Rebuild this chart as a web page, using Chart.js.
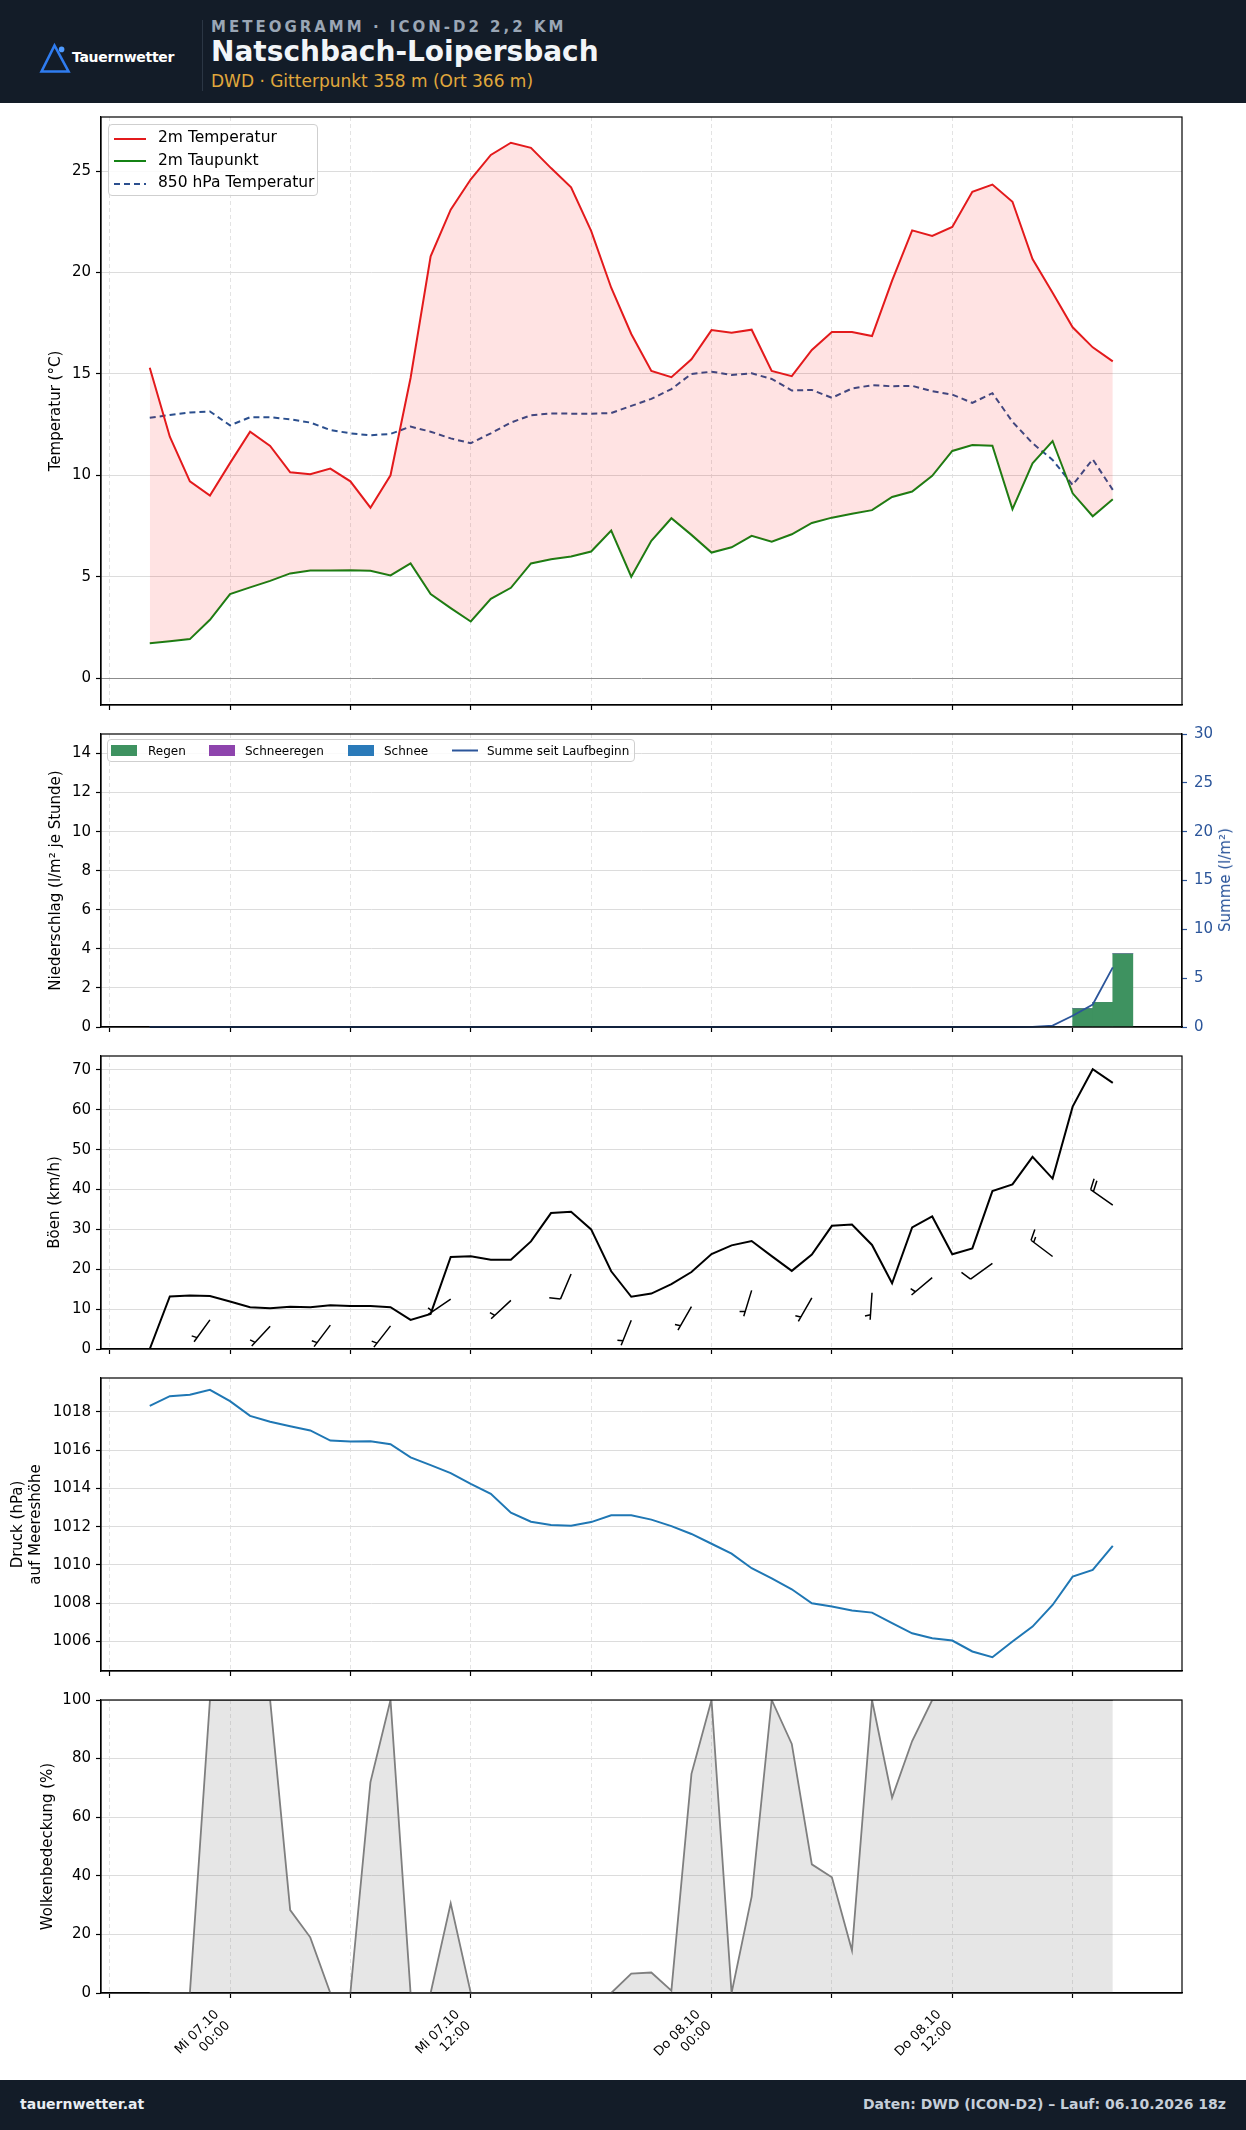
<!DOCTYPE html>
<html lang="de">
<head>
<meta charset="utf-8">
<title>Meteogramm ICON-D2 – Natschbach-Loipersbach</title>
<script src="https://cdn.jsdelivr.net/npm/chart.js@4.4.1/dist/chart.umd.min.js"></script>
<style>
  html, body { margin: 0; padding: 0; background: #fff; }
  body { position: relative; width: 1246px; height: 2130px; overflow: hidden; font-family: 'DejaVu Sans', sans-serif; color: #000; }
  .abs { position: absolute; white-space: nowrap; }
  #header { left: 0; top: 0; width: 1246px; height: 103px; background: #131c28; }
  #footer { left: 0; top: 2080px; width: 1246px; height: 50px; background: #131c28; }
  canvas { position: absolute; left: 0; }
  .leg { position: absolute; background: rgba(255,255,255,0.85); border: 1px solid #cfcfcf; border-radius: 4px; box-sizing: border-box; }
  .leg span, .leg svg, .leg i { position: absolute; white-space: nowrap; line-height: 1; }
</style>
</head>
<body>
<div id="header" class="abs">
  <svg class="abs" style="left:38px;top:42px" width="34" height="33" viewBox="0 0 34 33">
    <path d="M3.5 29.5 L16.5 3.5 L30.5 29.5 Z" fill="none" stroke="#2f7cf0" stroke-width="2.6"/>
    <circle cx="23.6" cy="7.4" r="2.8" fill="#4f9bff"/>
  </svg>
  <div class="abs" style="left:72px;top:50px;font-size:14px;font-weight:bold;color:#fff;line-height:1;letter-spacing:-0.3px">Tauernwetter</div>
  <div class="abs" style="left:202px;top:20px;width:1px;height:71px;background:#2b3644"></div>
  <div class="abs" style="left:211px;top:20px;font-size:15px;font-weight:bold;color:#9aa6b5;line-height:1;letter-spacing:3px">METEOGRAMM · ICON-D2 2,2 KM</div>
  <div class="abs" style="left:211px;top:38px;font-size:28px;font-weight:bold;color:#f2f5f8;line-height:1">Natschbach-Loipersbach</div>
  <div class="abs" style="left:211px;top:73px;font-size:17px;color:#e0a83c;line-height:1">DWD · Gitterpunkt 358 m (Ort 366 m)</div>
</div>

<canvas id="cTemp"></canvas>
<canvas id="cPrecip"></canvas>
<canvas id="cGust"></canvas>
<canvas id="cPress"></canvas>
<canvas id="cCloud"></canvas>

<div class="leg" style="left:108px;top:124px;width:210px;height:72px;font-size:15.5px">
  <svg style="left:5px;top:12px" width="32" height="4"><line x1="0" y1="2" x2="32" y2="2" stroke="#e31a1c" stroke-width="2"/></svg>
  <span style="left:49px;top:5px">2m Temperatur</span>
  <svg style="left:5px;top:34px" width="32" height="4"><line x1="0" y1="2" x2="32" y2="2" stroke="#148214" stroke-width="2"/></svg>
  <span style="left:49px;top:28px">2m Taupunkt</span>
  <svg style="left:5px;top:57px" width="32" height="4"><line x1="0" y1="2" x2="32" y2="2" stroke="#2b4f8e" stroke-width="2" stroke-dasharray="6 4"/></svg>
  <span style="left:49px;top:50px">850 hPa Temperatur</span>
</div>

<div class="leg" style="left:107px;top:739px;width:528px;height:23px;font-size:12px">
  <i style="left:3px;top:5px;width:26px;height:11px;background:#3e9260"></i>
  <span style="left:40px;top:5px">Regen</span>
  <i style="left:101px;top:5px;width:26px;height:11px;background:#8e44ad"></i>
  <span style="left:137px;top:5px">Schneeregen</span>
  <i style="left:240px;top:5px;width:26px;height:11px;background:#2a7ab9"></i>
  <span style="left:276px;top:5px">Schnee</span>
  <svg style="left:344px;top:9px" width="26" height="3"><line x1="0" y1="1.5" x2="26" y2="1.5" stroke="#2b559a" stroke-width="2"/></svg>
  <span style="left:379px;top:5px">Summe seit Laufbeginn</span>
</div>

<div class="abs" style="left:1225px;top:880px;font-size:15px;color:#2b559a;transform:translate(-50%,-50%) rotate(-90deg)">Summe (l/m²)</div>

<div id="footer" class="abs">
  <div class="abs" style="left:20px;top:17px;font-size:14px;font-weight:bold;color:#e8edf2;line-height:1">tauernwetter.at</div>
  <div class="abs" style="right:20px;top:17px;font-size:14px;font-weight:bold;color:#c5ced8;line-height:1">Daten: DWD (ICON-D2) – Lauf: 06.10.2026 18z</div>
</div>

<script>
// Stunden relativ zu Mi 07.10 00:00
const hours = [-4,-3,-2,-1,0,1,2,3,4,5,6,7,8,9,10,11,12,13,14,15,16,17,18,19,20,21,22,23,24,25,26,27,28,29,30,31,32,33,34,35,36,37,38,39,40,41,42,43,44];

const temp2m = [15.3,11.9,9.7,9.0,10.6,12.15,11.45,10.15,10.05,10.33,9.7,8.4,10.0,14.8,20.8,23.1,24.6,25.8,26.4,26.15,25.15,24.2,22.05,19.25,16.97,15.15,14.84,15.72,17.16,17.03,17.18,15.15,14.89,16.18,17.07,17.07,16.87,19.6,22.08,21.8,22.25,23.98,24.34,23.49,20.66,19.0,17.3,16.31,15.62];
const dew2m = [1.72,1.82,1.92,2.87,4.14,4.47,4.79,5.16,5.3,5.3,5.32,5.29,5.06,5.65,4.14,3.45,2.79,3.91,4.45,5.65,5.86,5.99,6.24,7.27,5.0,6.77,7.88,7.06,6.19,6.45,7.01,6.72,7.09,7.65,7.91,8.1,8.28,8.93,9.2,9.97,11.2,11.49,11.46,8.33,10.59,11.69,9.11,7.98,8.82];
const t850 = [12.84,12.97,13.1,13.15,12.46,12.86,12.86,12.76,12.6,12.23,12.07,11.97,12.04,12.4,12.15,11.82,11.58,12.07,12.6,12.96,13.05,13.04,13.04,13.07,13.42,13.77,14.25,15.0,15.11,14.95,15.03,14.75,14.18,14.21,13.82,14.28,14.44,14.39,14.41,14.15,13.98,13.57,14.05,12.64,11.58,10.76,9.52,10.79,9.28];

const precipRain  = [0,0,0,0,0,0,0,0,0,0,0,0,0,0,0,0,0,0,0,0,0,0,0,0,0,0,0,0,0,0,0,0,0,0,0,0,0,0,0,0,0,0,0,0,0,0,0.94,1.26,3.75];
const precipSleet = [0,0,0,0,0,0,0,0,0,0,0,0,0,0,0,0,0,0,0,0,0,0,0,0,0,0,0,0,0,0,0,0,0,0,0,0,0,0,0,0,0,0,0,0,0,0,0,0,0];
const precipSnow  = [0,0,0,0,0,0,0,0,0,0,0,0,0,0,0,0,0,0,0,0,0,0,0,0,0,0,0,0,0,0,0,0,0,0,0,0,0,0,0,0,0,0,0,0,0,0,0,0,0];
const precipSum   = [0,0,0,0,0,0,0,0,0,0,0,0,0,0,0,0,0,0,0,0,0,0,0,0,0,0,0,0,0,0,0,0,0,0,0,0,0,0,0,0,0,0,0,0,0.02,0.15,1.15,2.3,6.1];

const gusts = [0,13.2,13.4,13.3,11.9,10.5,10.2,10.6,10.5,11.0,10.8,10.8,10.5,7.3,8.8,23.1,23.25,22.4,22.4,27.0,34.1,34.4,30.0,19.5,13.1,13.9,16.25,19.3,23.8,26.0,27.1,23.3,19.6,23.7,30.9,31.2,26.1,16.5,30.5,33.25,23.75,25.25,39.6,41.3,48.2,42.75,60.8,70.2,66.75];

// Windfahnen alle 3 Stunden: Mittelwind (km/h), Richtung (Grad, woher), Fiederung (kt)
const windHours = [-1,2,5,8,11,14,17,20,23,26,29,32,35,38,41,44];
const windSpeed = [7.3,5.7,6.0,5.8,12.5,12.2,18.8,7.2,10.6,14.7,12.8,14.1,17.9,21.5,23.2,36.1];
const windDir   = [216,223,217,218,236,227,203,202,210,197,210,184,230,234,307,305];
const windBarbKt = [5,5,5,5,5,5,10,5,5,5,5,5,5,10,15,20];

const pressure = [1018.31,1018.82,1018.9,1019.15,1018.56,1017.79,1017.48,1017.25,1017.03,1016.5,1016.45,1016.47,1016.31,1015.62,1015.22,1014.8,1014.24,1013.72,1012.73,1012.26,1012.09,1012.05,1012.24,1012.6,1012.6,1012.37,1012.03,1011.62,1011.11,1010.59,1009.83,1009.3,1008.73,1008.0,1007.83,1007.62,1007.51,1006.96,1006.43,1006.17,1006.05,1005.48,1005.18,1006.0,1006.78,1007.91,1009.39,1009.74,1011.0];

const clouds = [0,0,0,100,100,100,100,28.3,19,0,0,72,100,0,0,30.6,0,0,0,0,0,0,0,0,6.6,7.0,0.8,74.8,100,0,32.9,100,85,43.9,39.5,14.5,100,66.7,86,100,100,100,100,100,100,100,100,100,100];

// Achsen
const xTickHours = [-6,0,6,12,18,24,30,36,42];
const xTickLabels = ['', 'Mi 07.10\n00:00', '', 'Mi 07.10\n12:00', '', 'Do 08.10\n00:00', '', 'Do 08.10\n12:00', ''];
const tempTicks = [0,5,10,15,20,25];
const precipTicks = [0,2,4,6,8,10,12,14];
const sumTicks = [0,5,10,15,20,25,30];
const gustTicks = [0,10,20,30,40,50,60,70];
const pressTicks = [1006,1008,1010,1012,1014,1016,1018];
const cloudTicks = [0,20,40,60,80,100];

const X_MIN = -6.43, X_MAX = 47.45;

// Plotbereiche (oben/unten in px)
const panels = {
  cTemp:   {top: 117,  bottom: 705,  xh: 20},
  cPrecip: {top: 734,  bottom: 1027, xh: 20},
  cGust:   {top: 1056, bottom: 1349, xh: 20},
  cPress:  {top: 1378, bottom: 1671, xh: 20},
  cCloud:  {top: 1700, bottom: 1993, xh: 87}
};
const PAD_TOP = 20;

Chart.defaults.font.family = "'DejaVu Sans', sans-serif";
Chart.defaults.font.size = 15;
Chart.defaults.color = '#000';

const pts = (arr, shift = 0) => hours.map((h, i) => ({x: h + shift, y: arr[i]}));

const framePlugin = {
  id: 'frame',
  afterDraw(chart) {
    const {ctx, chartArea: a} = chart;
    ctx.save();
    ctx.strokeStyle = '#000';
    ctx.lineWidth = 1.2;
    ctx.strokeRect(a.left, a.top, a.right - a.left, a.bottom - a.top);
    ctx.restore();
  }
};

const barbPlugin = {
  id: 'barbs',
  afterDatasetsDraw(chart) {
    const {ctx, scales: {x, y}} = chart;
    const L = 27;
    ctx.save();
    ctx.strokeStyle = '#000';
    ctx.lineWidth = 1.5;
    windHours.forEach((h, i) => {
      const px = x.getPixelForValue(h), py = y.getPixelForValue(windSpeed[i]);
      const a = windDir[i] * Math.PI / 180;
      const dx = Math.sin(a), dy = -Math.cos(a);
      const nx = -dy, ny = dx;
      ctx.beginPath();
      ctx.moveTo(px, py);
      ctx.lineTo(px + dx * L, py + dy * L);
      const barb = (s, h2, w2) => {
        ctx.moveTo(px + dx * s, py + dy * s);
        ctx.lineTo(px + dx * (s + w2) + nx * h2, py + dy * (s + w2) + ny * h2);
      };
      const kt = windBarbKt[i];
      let s = L;
      const full = Math.floor(kt / 10), half = kt % 10 >= 5;
      for (let k = 0; k < full; k++) { barb(s, 0.4 * L, 0.125 * L); s -= 0.125 * L; }
      if (half) {
        if (s === L) s -= 1.5 * 0.125 * L;
        barb(s, 0.2 * L, 0.0625 * L);
      }
      ctx.stroke();
    });
    ctx.restore();
  }
};

function xScale(showLabels, xh) {
  return {
    type: 'linear', min: X_MIN, max: X_MAX, offset: false,
    afterBuildTicks: s => { s.ticks = xTickHours.map(v => ({value: v})); },
    afterFit: s => { s.height = xh; },
    grid: {color: '#e3e3e3', lineWidth: 1, offset: false, tickLength: 5, tickColor: '#000', tickWidth: 1.2},
    border: {color: '#000', width: 1.2, dash: [4, 3]},
    ticks: showLabels
      ? {display: true, autoSkip: false, minRotation: 45, maxRotation: 45, padding: 9, labelOffset: -13, font: {size: 13},
         callback: (v, i) => xTickLabels[i].split('\n')}
      : {display: false}
  };
}

function yScale(o) {
  return {
    type: 'linear', position: 'left', min: o.min, max: o.max, stacked: !!o.stacked,
    afterBuildTicks: s => { s.ticks = o.ticks.map(v => ({value: v})); },
    afterFit: s => { s.width = 101; },
    grid: {color: o.gridColor || '#dcdcdc', tickLength: 5, tickColor: '#000', tickWidth: 1.2},
    border: {color: '#000', width: 1.2},
    ticks: {padding: 5, callback: v => String(v)},
    title: {display: true, text: o.title, font: {size: 15}, padding: {top: o.titlePad, bottom: 0}}
  };
}

function makeChart(id, type, datasets, scales, rightPad, plugins) {
  const p = panels[id];
  const cv = document.getElementById(id);
  const h = PAD_TOP + (p.bottom - p.top) + p.xh;
  cv.width = 1246; cv.height = h;
  cv.style.width = '1246px'; cv.style.height = h + 'px';
  cv.style.top = (p.top - PAD_TOP) + 'px';
  return new Chart(cv, {
    type,
    data: {datasets},
    options: {
      responsive: false, animation: false, events: [], devicePixelRatio: 1,
      layout: {padding: {top: PAD_TOP, right: rightPad, bottom: 0, left: 0}},
      plugins: {legend: {display: false}, tooltip: {enabled: false}},
      elements: {point: {radius: 0}, line: {tension: 0}},
      scales
    },
    plugins: [framePlugin].concat(plugins || [])
  });
}

// 1) Temperatur
makeChart('cTemp', 'line', [
  {label: '2m Temperatur', data: pts(temp2m), borderColor: '#e31a1c', borderWidth: 2,
   fill: 1, backgroundColor: 'rgba(255,0,0,0.11)'},
  {label: '2m Taupunkt', data: pts(dew2m), borderColor: '#148214', borderWidth: 2, fill: false},
  {label: '850 hPa Temperatur', data: pts(t850), borderColor: '#2b4f8e', borderWidth: 2, borderDash: [6, 4], fill: false}
], {
  x: xScale(false, panels.cTemp.xh),
  y: yScale({min: -1.33, max: 27.67, ticks: tempTicks, title: 'Temperatur (°C)', titlePad: 47,
             gridColor: c => c.tick && c.tick.value === 0 ? '#8c8c8c' : '#dcdcdc'})
}, 64);

// 2) Niederschlag
makeChart('cPrecip', 'bar', [
  {type: 'line', label: 'Summe seit Laufbeginn', data: pts(precipSum), yAxisID: 'y2',
   borderColor: '#2b559a', borderWidth: 1.8, fill: false, clip: {left: 0, top: 0, right: 0, bottom: 3}},
  {label: 'Regen', data: pts(precipRain, 0.5), yAxisID: 'y', stack: 'p', backgroundColor: '#3e9260',
   borderWidth: 0, barPercentage: 1, categoryPercentage: 1},
  {label: 'Schneeregen', data: pts(precipSleet, 0.5), yAxisID: 'y', stack: 'p', backgroundColor: '#8e44ad',
   borderWidth: 0, barPercentage: 1, categoryPercentage: 1},
  {label: 'Schnee', data: pts(precipSnow, 0.5), yAxisID: 'y', stack: 'p', backgroundColor: '#2a7ab9',
   borderWidth: 0, barPercentage: 1, categoryPercentage: 1}
], {
  x: xScale(false, panels.cPrecip.xh),
  y: yScale({min: 0, max: 15, ticks: precipTicks, title: 'Niederschlag (l/m² je Stunde)', titlePad: 47.5, stacked: true}),
  y2: {
    type: 'linear', position: 'right', min: 0, max: 30,
    afterBuildTicks: s => { s.ticks = sumTicks.map(v => ({value: v})); },
    afterFit: s => { s.width = 64; },
    grid: {drawOnChartArea: false, tickLength: 5, tickColor: '#2b559a', tickWidth: 1.2},
    border: {color: '#000', width: 1.2},
    ticks: {padding: 7, color: '#2b559a', callback: v => String(v)}
  }
}, 0);

// 3) Böen + Windfahnen
makeChart('cGust', 'line', [
  {label: 'Böen', data: pts(gusts), borderColor: '#000', borderWidth: 2, fill: false}
], {
  x: xScale(false, panels.cGust.xh),
  y: yScale({min: 0, max: 73.5, ticks: gustTicks, title: 'Böen (km/h)', titlePad: 46.5})
}, 64, [barbPlugin]);

// 4) Luftdruck
makeChart('cPress', 'line', [
  {label: 'Druck', data: pts(pressure), borderColor: '#1f77b4', borderWidth: 2, fill: false}
], {
  x: xScale(false, panels.cPress.xh),
  y: yScale({min: 1004.46, max: 1019.77, ticks: pressTicks, title: ['Druck (hPa)', 'auf Meereshöhe'], titlePad: 9.5})
}, 64);

// 5) Wolken
makeChart('cCloud', 'line', [
  {label: 'Wolkenbedeckung', data: pts(clouds), borderColor: '#7f7f7f', borderWidth: 1.8,
   fill: 'origin', backgroundColor: 'rgba(128,128,128,0.2)'}
], {
  x: xScale(true, panels.cCloud.xh),
  y: yScale({min: 0, max: 100, ticks: cloudTicks, title: 'Wolkenbedeckung (%)', titlePad: 39.5})
}, 64);
</script>
</body>
</html>
